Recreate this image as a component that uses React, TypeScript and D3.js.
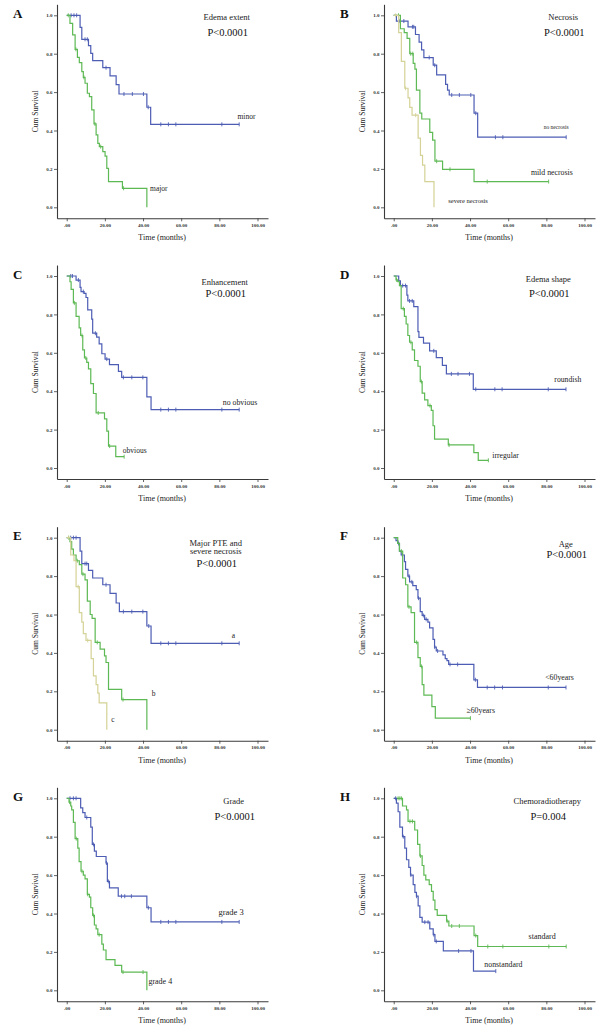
import { useEffect, useRef } from "react";
import * as d3 from "d3";

type Step = [number, number];

type T_Series = {
  steps: Step[];
  censor: number[];
  color: string;
};

type T_Label = { text: string; t: number; s: number; size: number };

type T_Panel = {
  letter: string;
  col: number;
  row: number;
  title: string[];
  titleDy: number[];
  pval: string;
  pDy: number;
  titleDx: number;
  series: T_Series[];
  labels: T_Label[];
};

const BLUE = "#4d5db4";
const GREEN = "#5db954";
const YELLOW = "#d4d296";

const xTicks = [0, 20, 40, 60, 80, 100];
const yTicks = [0, 0.2, 0.4, 0.6, 0.8, 1.0];

// A: edema extent
const aMinor: Step[] = [[0, 1], [7, 0.9375], [7.9, 0.875], [11.4, 0.842], [12.6, 0.802], [13.6, 0.764], [18.9, 0.727], [22.7, 0.684], [25.9, 0.639], [27.4, 0.59], [42, 0.521], [44, 0.432]];
const aMinorCensor = [2.3, 3.8, 5.2, 9.6, 10.8, 20.6, 30, 34.4, 40.2, 42.7, 49.3, 53.3, 57.2, 81.3, 90.4];
const aMajor: Step[] = [[0, 1], [1.7, 0.958], [3.1, 0.898], [4.4, 0.823], [5.6, 0.781], [6.6, 0.753], [7.9, 0.707], [8.7, 0.677], [9.6, 0.646], [10.8, 0.594], [11.9, 0.576], [13.1, 0.507], [14.3, 0.434], [15.4, 0.377], [16.3, 0.333], [17.1, 0.316], [18.9, 0.29], [20.1, 0.267], [21, 0.203], [21.9, 0.134], [29.2, 0.099], [42, 0]];
const aMajorCensor = [0.8, 4.8, 9, 14.8, 17.8, 29.8];

// B: necrosis
const bNone: Step[] = [[0, 1], [1.4, 0.97], [7.5, 0.94], [11.4, 0.9], [13.3, 0.86], [14.6, 0.82], [15.8, 0.78], [20.7, 0.74], [22.5, 0.69], [27.2, 0.64], [28.2, 0.61], [29.1, 0.585], [42.1, 0.49], [44, 0.365]];
const bNoneCensor = [3.2, 5.3, 9.8, 10.5, 18.6, 21.5, 30.4, 34.4, 40.4, 43, 53.3, 57.2, 90.4];
const bMild: Step[] = [[0, 1], [3.5, 0.93], [5.5, 0.91], [7, 0.88], [8.4, 0.8], [10.2, 0.75], [11.1, 0.72], [11.9, 0.61], [13.7, 0.49], [14.7, 0.46], [18.9, 0.39], [20.4, 0.35], [21.6, 0.24], [25.6, 0.198], [42.1, 0.134]];
const bMildCensor = [2.5, 8.9, 10, 22.5, 29.5, 49, 81.2];
const bSevere: Step[] = [[0, 1], [2.6, 0.91], [4, 0.76], [5.8, 0.62], [7.5, 0.57], [8.4, 0.52], [9.6, 0.48], [12.8, 0.36], [14, 0.27], [15.1, 0.22], [16.3, 0.134], [21.1, 0]];
const bSevereCensor = [1, 6.2, 11.5];

// C: enhancement
const cNone: Step[] = [[0, 1], [4.9, 0.979], [7, 0.941], [7.5, 0.919], [9.1, 0.91], [10.1, 0.888], [11, 0.824], [13.1, 0.775], [13.6, 0.702], [15.7, 0.682], [17, 0.647], [18.4, 0.595], [20.1, 0.567], [22.4, 0.538], [27.1, 0.503], [28.8, 0.472], [42, 0.37], [44.2, 0.304]];
const cNoneCensor = [2.1, 3, 6.1, 8.7, 15, 21, 29.7, 34.1, 39.9, 49.3, 53.3, 57.2, 81.3, 90.4];
const cObvious: Step[] = [[0, 1], [1.7, 0.97], [2.3, 0.93], [3.5, 0.86], [4.9, 0.79], [6.5, 0.73], [7.3, 0.69], [8.4, 0.615], [9.3, 0.573], [10.5, 0.55], [11.4, 0.516], [12.6, 0.439], [14, 0.388], [15.4, 0.287], [19.8, 0.256], [21, 0.192], [21.9, 0.114], [25.7, 0.059]];
const cObviousCensor = [4, 8, 10, 16.5, 22.5, 30.1];

// D: edema shape
const dRound: Step[] = [[0, 1], [2.6, 0.975], [3.5, 0.95], [6.9, 0.9], [7.4, 0.87], [10.5, 0.84], [12.7, 0.71], [13.2, 0.68], [15.6, 0.65], [18.8, 0.61], [22.3, 0.575], [25.5, 0.535], [27.6, 0.49], [41.7, 0.41]];
const dRoundCensor = [4.7, 6.2, 8.3, 9.7, 21, 30.2, 33.7, 39.7, 43, 53, 56.8, 81, 90.3];
const dIrreg: Step[] = [[0, 1], [1.2, 0.98], [2.1, 0.97], [3, 0.95], [3.9, 0.83], [5.6, 0.79], [6.5, 0.75], [7.4, 0.69], [8.3, 0.655], [9.7, 0.615], [10.9, 0.56], [12.7, 0.53], [13.9, 0.45], [14.9, 0.39], [16.2, 0.355], [17.9, 0.325], [19.7, 0.3], [20.6, 0.22], [21.4, 0.15], [28.6, 0.12], [42, 0.08], [44.3, 0.04]];
const dIrregCensor = [1.5, 5, 9, 14.5, 19, 29, 49.6];

// E: major PTE and severe necrosis
const eA: Step[] = [[0, 1], [7, 0.93], [7.9, 0.865], [11.4, 0.83], [13.6, 0.79], [18.9, 0.755], [22.7, 0.71], [25.9, 0.66], [27.6, 0.615], [42, 0.54], [44.2, 0.45]];
const eACensor = [2.1, 3.5, 4.9, 9.6, 10.5, 20.6, 29.7, 34.1, 39.9, 43, 49.3, 53.3, 57.2, 81.3, 90.4];
const eB: Step[] = [[0, 1], [1.7, 0.98], [2.6, 0.94], [3.5, 0.91], [4.9, 0.88], [6.6, 0.86], [7.9, 0.81], [9.6, 0.78], [10.8, 0.67], [12.3, 0.6], [13.3, 0.58], [14.9, 0.455], [17.5, 0.42], [19.8, 0.385], [20.6, 0.35], [21.9, 0.21], [28.8, 0.157], [42, 0]];
const eBCensor = [1, 5.5, 8.5, 16, 29.5];
const eC: Step[] = [[0, 1], [2.1, 0.91], [3.8, 0.88], [4.9, 0.745], [6.6, 0.61], [7.9, 0.56], [8.7, 0.5], [10.1, 0.465], [12.8, 0.37], [14, 0.28], [15.4, 0.235], [16.3, 0.19], [17, 0.14], [21, 0]];
const eCCensor = [1, 6, 11];

// F: age
const fYoung: Step[] = [[0, 1], [1.2, 0.985], [2.1, 0.97], [3, 0.93], [3.9, 0.91], [5.6, 0.875], [6.2, 0.835], [7.4, 0.8], [8.3, 0.77], [10, 0.75], [11.8, 0.73], [12.7, 0.685], [13.9, 0.615], [14.9, 0.595], [16.2, 0.575], [17.9, 0.56], [18.8, 0.53], [20.6, 0.47], [21.4, 0.43], [22.3, 0.41], [25.8, 0.39], [27, 0.37], [27.9, 0.36], [28.8, 0.34], [42, 0.26], [43.9, 0.22]];
const fYoungCensor = [2.5, 4.5, 8, 9.5, 13, 15.5, 17, 21.5, 23, 29.5, 33.5, 42.8, 49, 52.9, 57, 81, 90.3];
const fOld: Step[] = [[0, 1], [2.1, 0.97], [3, 0.93], [4.7, 0.79], [6.2, 0.755], [7.4, 0.64], [9.1, 0.61], [10.9, 0.455], [12.7, 0.375], [13.9, 0.33], [14.9, 0.235], [15.8, 0.18], [20, 0.12], [21.8, 0.06]];
const fOldCensor = [4, 8, 12, 14.5, 40.2];

// G: grade
const gGrade3: Step[] = [[0, 1], [7.3, 0.95], [8.4, 0.925], [9.6, 0.9], [12.6, 0.85], [13.4, 0.76], [14.5, 0.725], [15.5, 0.697], [20.6, 0.663], [21.3, 0.567], [22.4, 0.533], [27, 0.49], [42, 0.43], [44.2, 0.356]];
const gGrade3Censor = [1.7, 3.5, 4.9, 10.5, 14, 20.8, 21.8, 28.7, 30.4, 33.9, 42.8, 49.3, 53.3, 57.2, 81.3, 90.4];
const gGrade4: Step[] = [[0, 1], [1.2, 0.98], [2.1, 0.96], [2.6, 0.94], [3.5, 0.875], [4.4, 0.79], [5.8, 0.74], [6.5, 0.67], [7.5, 0.62], [8.7, 0.6], [9.6, 0.58], [10.8, 0.5], [11.9, 0.485], [12.6, 0.43], [13.6, 0.39], [14.5, 0.34], [15.4, 0.32], [16.3, 0.29], [18.4, 0.24], [19.2, 0.21], [20.6, 0.16], [25.3, 0.13], [28.8, 0.095], [42, 0]];
const gGrade4Censor = [1.5, 5, 8, 11, 14, 17, 29.5, 40];

// H: chemoradiotherapy
const hStandard: Step[] = [[0, 1], [4.6, 0.96], [6.7, 0.94], [7.5, 0.88], [11, 0.835], [12.5, 0.76], [13.7, 0.7], [14.9, 0.65], [15.8, 0.6], [16.8, 0.575], [18.6, 0.55], [19.8, 0.515], [20.7, 0.47], [21.6, 0.42], [22.8, 0.39], [27.7, 0.36], [28.9, 0.335], [42.1, 0.285], [44, 0.228]];
const hStandardCensor = [2.3, 3.2, 4, 8.5, 9.8, 14, 28, 30.4, 34.4, 43, 49.3, 57.2, 81.3, 90.4];
const hNonstd: Step[] = [[0, 1], [1.4, 0.975], [2.3, 0.93], [3.2, 0.85], [4.6, 0.8], [5.8, 0.74], [6.7, 0.68], [7.9, 0.64], [8.8, 0.6], [10.2, 0.55], [11.1, 0.51], [11.9, 0.49], [12.8, 0.44], [13.7, 0.38], [14.9, 0.355], [18.9, 0.32], [20.7, 0.29], [21.6, 0.255], [26, 0.205], [41.8, 0.1]];
const hNonstdCensor = [1, 5, 9, 12, 16.3, 18, 21, 22.3, 34, 40.5, 53.5];

const panels: T_Panel[] = [
  {
    letter: "A", col: 0, row: 0, title: ["Edema extent"], titleDy: [5], pval: "P<0.0001", pDy: 20.7, titleDx: 160,
    series: [
      { steps: aMinor, censor: aMinorCensor, color: BLUE },
      { steps: aMajor, censor: aMajorCensor, color: GREEN },
    ],
    labels: [
      { text: "minor", t: 89.5, s: 0.46, size: 7.5 },
      { text: "major", t: 43.7, s: 0.087, size: 7.5 },
    ],
  },
  {
    letter: "B", col: 1, row: 0, title: ["Necrosis"], titleDy: [5], pval: "P<0.0001", pDy: 20.7, titleDx: 169.5,
    series: [
      { steps: bNone, censor: bNoneCensor, color: BLUE },
      { steps: bMild, censor: bMildCensor, color: GREEN },
      { steps: bSevere, censor: bSevereCensor, color: YELLOW },
    ],
    labels: [
      { text: "no necrosis", t: 78.6, s: 0.406, size: 5.5 },
      { text: "mild necrosis", t: 71.9, s: 0.168, size: 7.8 },
      { text: "severe necrosis", t: 28.6, s: 0.021, size: 6.5 },
    ],
  },
  {
    letter: "C", col: 0, row: 1, title: ["Enhancement"], titleDy: [8.7], pval: "P<0.0001", pDy: 20.7, titleDx: 158,
    series: [
      { steps: cNone, censor: cNoneCensor, color: BLUE },
      { steps: cObvious, censor: cObviousCensor, color: GREEN },
    ],
    labels: [
      { text: "no obvious", t: 81.8, s: 0.33, size: 7.8 },
      { text: "obvious", t: 29.4, s: 0.08, size: 7.5 },
    ],
  },
  {
    letter: "D", col: 1, row: 1, title: ["Edema shape"], titleDy: [6.3], pval: "P<0.0001", pDy: 20.7, titleDx: 154.5,
    series: [
      { steps: dRound, censor: dRoundCensor, color: BLUE },
      { steps: dIrreg, censor: dIrregCensor, color: GREEN },
    ],
    labels: [
      { text: "roundish", t: 84.2, s: 0.45, size: 7.7 },
      { text: "irregular", t: 51.7, s: 0.054, size: 7.7 },
    ],
  },
  {
    letter: "E", col: 0, row: 2, title: ["Major PTE and", "severe necrosis"], titleDy: [8, 16.6], pval: "P<0.0001", pDy: 29, titleDx: 149,
    series: [
      { steps: eA, censor: eACensor, color: BLUE },
      { steps: eB, censor: eBCensor, color: GREEN },
      { steps: eC, censor: eCCensor, color: YELLOW },
    ],
    labels: [
      { text: "a", t: 86.5, s: 0.48, size: 7.5 },
      { text: "b", t: 44.6, s: 0.177, size: 7.5 },
      { text: "c", t: 23.3, s: 0.038, size: 7.5 },
    ],
  },
  {
    letter: "F", col: 1, row: 2, title: ["Age"], titleDy: [9], pval: "P<0.0001", pDy: 20.6, titleDx: 172,
    series: [
      { steps: fYoung, censor: fYoungCensor, color: BLUE },
      { steps: fOld, censor: fOldCensor, color: GREEN },
    ],
    labels: [
      { text: "<60years", t: 79.4, s: 0.26, size: 7.8 },
      { text: "≥60years", t: 38.1, s: 0.087, size: 7.8 },
    ],
  },
  {
    letter: "G", col: 0, row: 3, title: ["Grade"], titleDy: [6], pval: "P<0.0001", pDy: 21.7, titleDx: 167,
    series: [
      { steps: gGrade3, censor: gGrade3Censor, color: BLUE },
      { steps: gGrade4, censor: gGrade4Censor, color: GREEN },
    ],
    labels: [
      { text: "grade 3", t: 79.5, s: 0.39, size: 8.5 },
      { text: "grade 4", t: 42.8, s: 0.035, size: 8 },
    ],
  },
  {
    letter: "H", col: 1, row: 3, title: ["Chemoradiotherapy"], titleDy: [6], pval: "P=0.004", pDy: 21.7, titleDx: 153.5,
    series: [
      { steps: hStandard, censor: hStandardCensor, color: GREEN },
      { steps: hNonstd, censor: hNonstdCensor, color: BLUE },
    ],
    labels: [
      { text: "standard", t: 70.7, s: 0.268, size: 8 },
      { text: "nonstandard", t: 47.5, s: 0.121, size: 7.8 },
    ],
  },
];

const FONT = "'Liberation Serif', 'Times New Roman', serif";

export default function App() {
  const svgRef = useRef<SVGSVGElement>(null);

  useEffect(() => {
    if (!svgRef.current) return;
    const svg = d3.select(svgRef.current);
    svg.selectAll("*").remove();

    // 패널 위치
    const colLeft = [57, 384];
    const colRight = [268, 595];
    const rowTop = [15.3, 276, 537.7, 798.3];
    const unitH = 192;
    const pad = 11;

    panels.forEach((p) => {
      const y1 = rowTop[p.row];
      const x = d3.scaleLinear().domain([-5.1, 105.5]).range([colLeft[p.col], colRight[p.col]]);
      const y = d3.scaleLinear().domain([-pad / unitH, 1 + pad / unitH]).range([y1 + unitH + pad, y1 - pad]);
      const g = svg.append("g");
      const x0 = x(0);
      const bottom = y1 + unitH + pad;

      // x 축
      const xAxis = g
        .append("g")
        .attr("transform", `translate(0,${bottom})`)
        .call(
          d3
            .axisBottom(x)
            .tickValues(xTicks)
            .tickSize(3)
            .tickPadding(2)
            .tickSizeOuter(0)
            .tickFormat((d) => (+d === 0 ? ".00" : (+d).toFixed(2)))
        );
      // y 축
      const yAxis = g
        .append("g")
        .attr("transform", `translate(${colLeft[p.col]},0)`)
        .call(
          d3
            .axisLeft(y)
            .tickValues(yTicks)
            .tickSize(3)
            .tickPadding(1.5)
            .tickSizeOuter(0)
            .tickFormat(d3.format(".1f"))
        );
      [xAxis, yAxis].forEach((ax) => {
        ax.select(".domain").attr("stroke", "#3a3a3a").attr("stroke-width", 1.1);
        ax.selectAll(".tick line").attr("stroke", "#3a3a3a").attr("stroke-width", 0.8);
        ax.selectAll(".tick text")
          .attr("fill", "#333")
          .style("font-size", "5px")
          .style("font-weight", "bold")
          .style("font-family", FONT);
      });

      // 축 제목
      g.append("text")
        .attr("x", (x(0) + x(100)) / 2)
        .attr("y", bottom + 22)
        .attr("text-anchor", "middle")
        .style("font-family", FONT)
        .style("font-size", "8px")
        .attr("fill", "#222")
        .text("Time (months)");
      g.append("text")
        .attr("transform", `translate(${colLeft[p.col] - 19},${y(0.5)}) rotate(-90)`)
        .attr("text-anchor", "middle")
        .style("font-family", FONT)
        .style("font-size", "7.5px")
        .attr("fill", "#222")
        .text("Cum Survival");

      // 패널 문자
      g.append("text")
        .attr("x", colLeft[p.col] - 44)
        .attr("y", y1 + 2.5)
        .style("font-family", FONT)
        .style("font-size", "13px")
        .style("font-weight", "bold")
        .attr("fill", "#111")
        .text(p.letter);

      // 제목, P 값
      p.title.forEach((t, i) => {
        g.append("text")
          .attr("x", x0 + p.titleDx)
          .attr("y", y1 + p.titleDy[i])
          .attr("text-anchor", "middle")
          .style("font-family", FONT)
          .style("font-size", "8.5px")
          .attr("fill", "#222")
          .text(t);
      });
      g.append("text")
        .attr("x", x0 + p.titleDx + 1)
        .attr("y", y1 + p.pDy)
        .attr("text-anchor", "middle")
        .style("font-family", FONT)
        .style("font-size", "10.5px")
        .attr("fill", "#111")
        .text(p.pval);

      // 곡선
      const line = d3
        .line<Step>()
        .x((d) => x(d[0]))
        .y((d) => y(d[1]))
        .curve(d3.curveStepAfter);

      p.series.forEach((s) => {
        const last = s.steps[s.steps.length - 1];
        const end = Math.max(last[0], d3.max(s.censor) ?? 0);
        const pts: Step[] = [...s.steps, [end, last[1]]];
        g.append("path")
          .datum(pts)
          .attr("fill", "none")
          .attr("stroke", s.color)
          .attr("stroke-width", 1.2)
          .attr("d", line);

        const survAt = (t: number) => {
          let v = 1;
          s.steps.forEach((st) => {
            if (st[0] <= t) v = st[1];
          });
          return v;
        };
        g.selectAll(null)
          .data(s.censor)
          .enter()
          .append("line")
          .attr("x1", (t) => x(t))
          .attr("x2", (t) => x(t))
          .attr("y1", (t) => y(survAt(t)) - 2)
          .attr("y2", (t) => y(survAt(t)) + 2)
          .attr("stroke", s.color)
          .attr("stroke-width", 0.9);
      });

      // 곡선 라벨
      p.labels.forEach((l) => {
        g.append("text")
          .attr("x", x(l.t))
          .attr("y", y(l.s))
          .style("font-family", FONT)
          .style("font-size", `${l.size}px`)
          .attr("fill", "#222")
          .text(l.text);
      });
    });
  }, []);

  return (
    <svg
      ref={svgRef}
      width={600}
      height={1026}
      style={{ position: "absolute", left: 0, top: 0, background: "#fff" }}
    />
  );
}
